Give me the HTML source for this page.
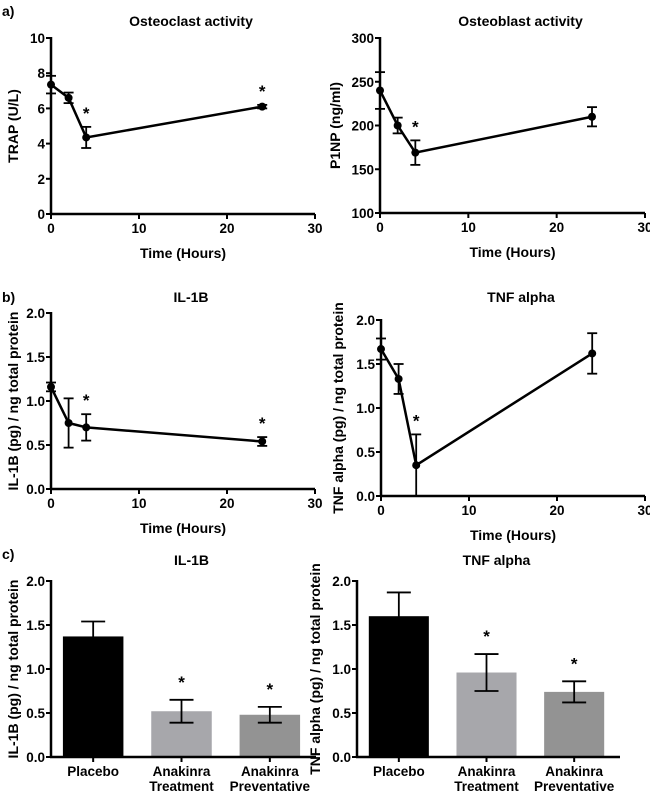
<!DOCTYPE html>
<html><head><meta charset="utf-8"><style>
html,body{margin:0;padding:0;background:#fff;}
svg{display:block;font-family:"Liberation Sans",Arial,sans-serif;font-weight:bold;}
</style></head><body>
<svg id="fig" width="650" height="792" viewBox="0 0 650 792" xmlns="http://www.w3.org/2000/svg">
<text x="2" y="16" font-size="14">a)</text>
<text x="2" y="302" font-size="14">b)</text>
<text x="2" y="559" font-size="14">c)</text>
</svg>
<script>
// ---- data ----
const timeHours = [0, 2, 4, 24];
const trapValues = [7.35, 6.6, 4.35, 6.1];
const trapErr = [0.5, 0.3, 0.6, 0.1];
const trapStars = [0, 0, 1, 1];
const p1npValues = [240, 200, 169, 210];
const p1npErr = [21, 9, 14, 11];
const p1npStars = [0, 0, 1, 0];
const il1bTimeValues = [1.16, 0.75, 0.70, 0.54];
const il1bTimeErr = [0.05, 0.28, 0.15, 0.05];
const il1bTimeStars = [0, 0, 1, 1];
const tnfTimeValues = [1.67, 1.33, 0.35, 1.62];
const tnfTimeErr = [0.12, 0.17, 0.35, 0.23];
const tnfTimeStars = [0, 0, 1, 0];
const barCategories = [["Placebo"], ["Anakinra", "Treatment"], ["Anakinra", "Preventative"]];
const il1bBarValues = [1.37, 0.52, 0.48];
const il1bBarErr = [0.17, 0.13, 0.09];
const tnfBarValues = [1.60, 0.96, 0.74];
const tnfBarErr = [0.27, 0.21, 0.12];
const barStars = [0, 1, 1];
const xTicks = [0, 10, 20, 30];
const trapTicks = [0, 2, 4, 6, 8, 10];
const p1npTicks = [100, 150, 200, 250, 300];
const cytoTicks = [0, 0.5, 1.0, 1.5, 2.0];
const cytoTickLabels = ["0.0", "0.5", "1.0", "1.5", "2.0"];

const svg = document.getElementById('fig');
const NS = 'http://www.w3.org/2000/svg';
function mk(tag, attrs, parent) {
  const e = document.createElementNS(NS, tag);
  for (const k in attrs) e.setAttribute(k, attrs[k]);
  (parent || svg).appendChild(e);
  return e;
}
function txt(x, y, s, size, anchor, parent, rot) {
  const t = mk('text', {x: x, y: y, 'font-size': size, 'text-anchor': anchor || 'middle'}, parent);
  if (rot) t.setAttribute('transform', 'rotate(-90 ' + x + ' ' + y + ')');
  t.textContent = s;
  return t;
}

function yAxis(g, sx, ys, ticks, labels) {
  const l = mk('line', {x1: sx, x2: sx, y1: ys(ticks[0]) + 1, y2: ys(ticks[ticks.length - 1]) - 1, stroke: '#000', 'stroke-width': 2.5}, g);
  
  
  ticks.forEach((v, i) => {
    mk('line', {x1: sx - 5, x2: sx, y1: ys(v), y2: ys(v), stroke: '#000', 'stroke-width': 2}, g);
    const t = txt(sx - 6, ys(v) + 5, labels[i], 13.5, 'end', g);
    
    
  });
}

function linePanel(o) {
  const g = mk('g', {});
  
  
  const xs = v => o.x0 + (v - 0) / 30 * (o.x1 - o.x0);
  const ys = v => o.y0 + (v - o.ymin) / (o.ymax - o.ymin) * (o.y1 - o.y0);
  const tt = txt((o.x0 + o.x1) / 2 + 8, o.titleY, o.title, 14, 'middle', g);
  
  
  yAxis(g, o.x0, ys, o.yticks, o.ylabels);
  const xl = mk('line', {x1: o.x0 - 1, x2: o.x1, y1: o.y0, y2: o.y0, stroke: '#000', 'stroke-width': 2.5}, g);
  
  
  xTicks.forEach(v => {
    mk('line', {x1: xs(v), x2: xs(v), y1: o.y0, y2: o.y0 + 5, stroke: '#000', 'stroke-width': 2}, g);
    const t = txt(xs(v), o.y0 + 19, String(v), 13.5, 'middle', g);
    
    
  });
  const xt = txt((o.x0 + o.x1) / 2, o.y0 + 44, 'Time (Hours)', 14, 'middle', g);
  
  
  const yt = txt(o.ytX, (o.y0 + o.y1) / 2, o.ytitle, 14, 'middle', g, true);
  
  
  const pts = timeHours.map((t, i) => xs(t) + ',' + ys(o.vals[i])).join(' ');
  const pl = mk('polyline', {points: pts, fill: 'none', stroke: '#000', 'stroke-width': 2.5}, g);
  
  
  timeHours.forEach((t, i) => {
    const x = xs(t), v = o.vals[i], e = o.err[i];
    const yt2 = ys(v + e), yb = ys(Math.max(o.ymin, v - e));
    mk('line', {x1: x, x2: x, y1: yt2, y2: yb, stroke: '#000', 'stroke-width': 1.8}, g);
    mk('line', {x1: x - 5, x2: x + 5, y1: yt2, y2: yt2, stroke: '#000', 'stroke-width': 1.8}, g);
    mk('line', {x1: x - 5, x2: x + 5, y1: yb, y2: yb, stroke: '#000', 'stroke-width': 1.8}, g);
    const c = mk('circle', {cx: x, cy: ys(v), r: 4, fill: '#000'}, g);
    
    
    if (o.stars[i]) {
      const s = txt(x, yt2 - 8, '*', 17, 'middle', g);
      
      
    }
  });
}

function barPanel(o) {
  const g = mk('g', {});
  
  
  const ys = v => o.y0 + v / 2 * (o.y1 - o.y0);
  const n = barCategories.length;
  const step = (o.x1 - o.x0) / n;
  const bw = step * 0.685;
  const cx = i => o.x0 + step * (i + 0.5) - 2;
  const colors = ['#000000', '#a7a7ab', '#939393'];
  const tt = txt((o.x0 + o.x1) / 2 + 8, o.titleY, o.title, 14, 'middle', g);
  
  
  const yt = txt(o.ytX, (o.y0 + o.y1) / 2, o.ytitle, 14, 'middle', g, true);
  
  
  o.vals.forEach((v, i) => {
    const e = o.err[i], ytp = ys(v + e), yb = ys(v - e);
    const r = mk('rect', {x: cx(i) - bw / 2, y: ys(v), width: bw, height: o.y0 - ys(v), fill: colors[i]}, g);
    
    
    mk('line', {x1: cx(i), x2: cx(i), y1: ytp, y2: yb, stroke: '#000', 'stroke-width': 1.8}, g);
    mk('line', {x1: cx(i) - 12, x2: cx(i) + 12, y1: ytp, y2: ytp, stroke: '#000', 'stroke-width': 1.8}, g);
    mk('line', {x1: cx(i) - 12, x2: cx(i) + 12, y1: yb, y2: yb, stroke: '#000', 'stroke-width': 1.8}, g);
    if (barStars[i]) {
      const s = txt(cx(i), ytp - 12, '*', 17, 'middle', g);
      
      
    }
    mk('line', {x1: cx(i), x2: cx(i), y1: o.y0, y2: o.y0 + 5, stroke: '#000', 'stroke-width': 2}, g);
    barCategories[i].forEach((w, j) => {
      const t = txt(cx(i), o.y0 + 19 + j * 15, w, 13.5, 'middle', g);
      
      
    });
  });
  yAxis(g, o.x0, ys, cytoTicks, cytoTickLabels);
  const xl = mk('line', {x1: o.x0 - 1, x2: o.x1, y1: o.y0, y2: o.y0, stroke: '#000', 'stroke-width': 2.5}, g);
  
  
}

linePanel({name: 'osteoclast-chart', title: 'Osteoclast activity', titleY: 26, x0: 51, x1: 315, y0: 214, y1: 38, ymin: 0, ymax: 10,
  yticks: trapTicks, ylabels: trapTicks.map(String), vals: trapValues, err: trapErr, stars: trapStars, ytitle: 'TRAP (U/L)', ytX: 18});
linePanel({name: 'osteoblast-chart', title: 'Osteoblast activity', titleY: 26, x0: 380, x1: 645, y0: 213, y1: 38, ymin: 100, ymax: 300,
  yticks: p1npTicks, ylabels: p1npTicks.map(String), vals: p1npValues, err: p1npErr, stars: p1npStars, ytitle: 'P1NP (ng/ml)', ytX: 340});
linePanel({name: 'il1b-time-chart', title: 'IL-1B', titleY: 302, x0: 51, x1: 315, y0: 489, y1: 313, ymin: 0, ymax: 2,
  yticks: cytoTicks, ylabels: cytoTickLabels, vals: il1bTimeValues, err: il1bTimeErr, stars: il1bTimeStars, ytitle: 'IL-1B (pg) / ng total protein', ytX: 18});
linePanel({name: 'tnf-time-chart', title: 'TNF alpha', titleY: 302, x0: 381, x1: 645, y0: 496, y1: 320, ymin: 0, ymax: 2,
  yticks: cytoTicks, ylabels: cytoTickLabels, vals: tnfTimeValues, err: tnfTimeErr, stars: tnfTimeStars, ytitle: 'TNF alpha (pg) / ng total protein', ytX: 343});
barPanel({name: 'il1b-bar-chart', title: 'IL-1B', titleY: 565, x0: 51, x1: 316, y0: 757, y1: 581, vals: il1bBarValues, err: il1bBarErr, ytitle: 'IL-1B (pg) / ng total protein', ytX: 18});
barPanel({name: 'tnf-bar-chart', title: 'TNF alpha', titleY: 565, x0: 357, x1: 620, y0: 757, y1: 581, vals: tnfBarValues, err: tnfBarErr, ytitle: 'TNF alpha (pg) / ng total protein', ytX: 320});
</script>
</body></html>
